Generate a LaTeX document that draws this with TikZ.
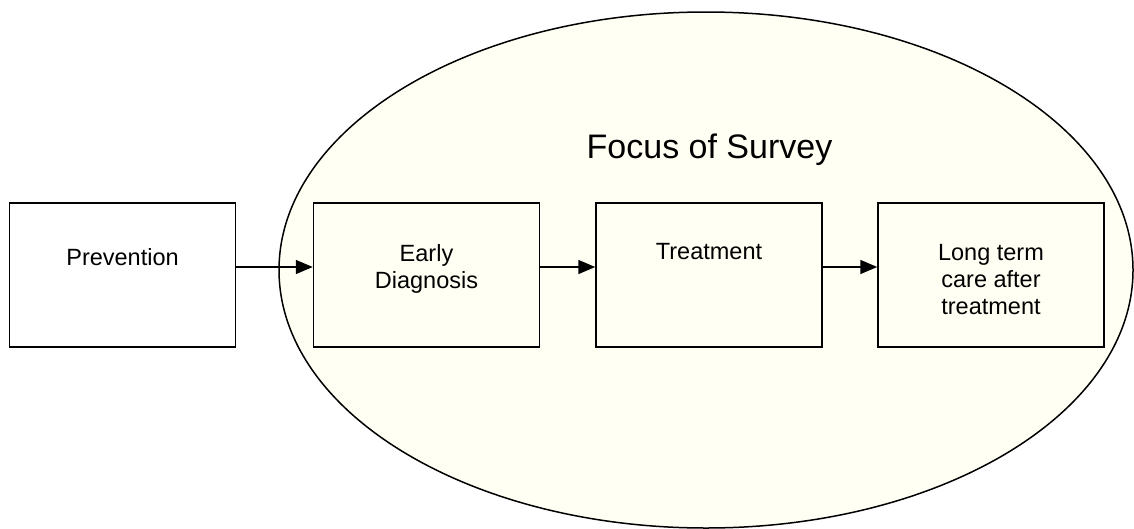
\documentclass[tikz,border=0pt]{standalone}
\usepackage{fontspec}
\setmainfont{Liberation Sans}
\usetikzlibrary{shapes,arrows.meta}

\definecolor{surveyfill}{RGB}{255,255,244}
\tikzset{
  stagebox/.style={shape=rectangle,draw=black,line width=1.5pt,minimum width=226pt,minimum height=144pt,inner sep=0pt},
  stagetext/.style={align=center,anchor=north,inner sep=0pt,font=\fontsize{23.5pt}{27pt}\selectfont},
  flow/.style={-{Triangle[length=17pt,width=14pt]},draw=black,line width=1.5pt}
}

\begin{document}
\begin{tikzpicture}[x=1pt,y=-1pt]
\useasboundingbox (0,0) rectangle (1134,528);
\node[shape=ellipse,draw=black,fill=surveyfill,line width=1.5pt,minimum width=854pt,minimum height=516pt,inner sep=0pt] (survey) at (706,270) {};
\node[anchor=base,inner sep=0pt,font=\fontsize{34pt}{40pt}\selectfont] (title) at (709.5,158) {Focus of Survey};

\node[stagebox,fill=white,label={[stagetext,yshift=-46pt]north:Prevention}] (prev) at (122.5,275) {};
\node[stagebox,label={[stagetext,yshift=-42pt]north:{Early\\Diagnosis}}] (diag) at (426.5,275) {};
\node[stagebox,label={[stagetext,yshift=-41pt]north:Treatment}] (treat) at (709,275) {};
\node[stagebox,label={[stagetext,yshift=-42pt]north:{Long term\\care after\\treatment}}] (care) at (991,275) {};

\draw [flow] ([yshift=8pt]prev.east) -- ([yshift=8pt]diag.west);
\draw [flow] ([yshift=8pt]diag.east) -- ([yshift=8pt]treat.west);
\draw [flow] ([yshift=8pt]treat.east) -- ([yshift=8pt]care.west);
\end{tikzpicture}
\end{document}
